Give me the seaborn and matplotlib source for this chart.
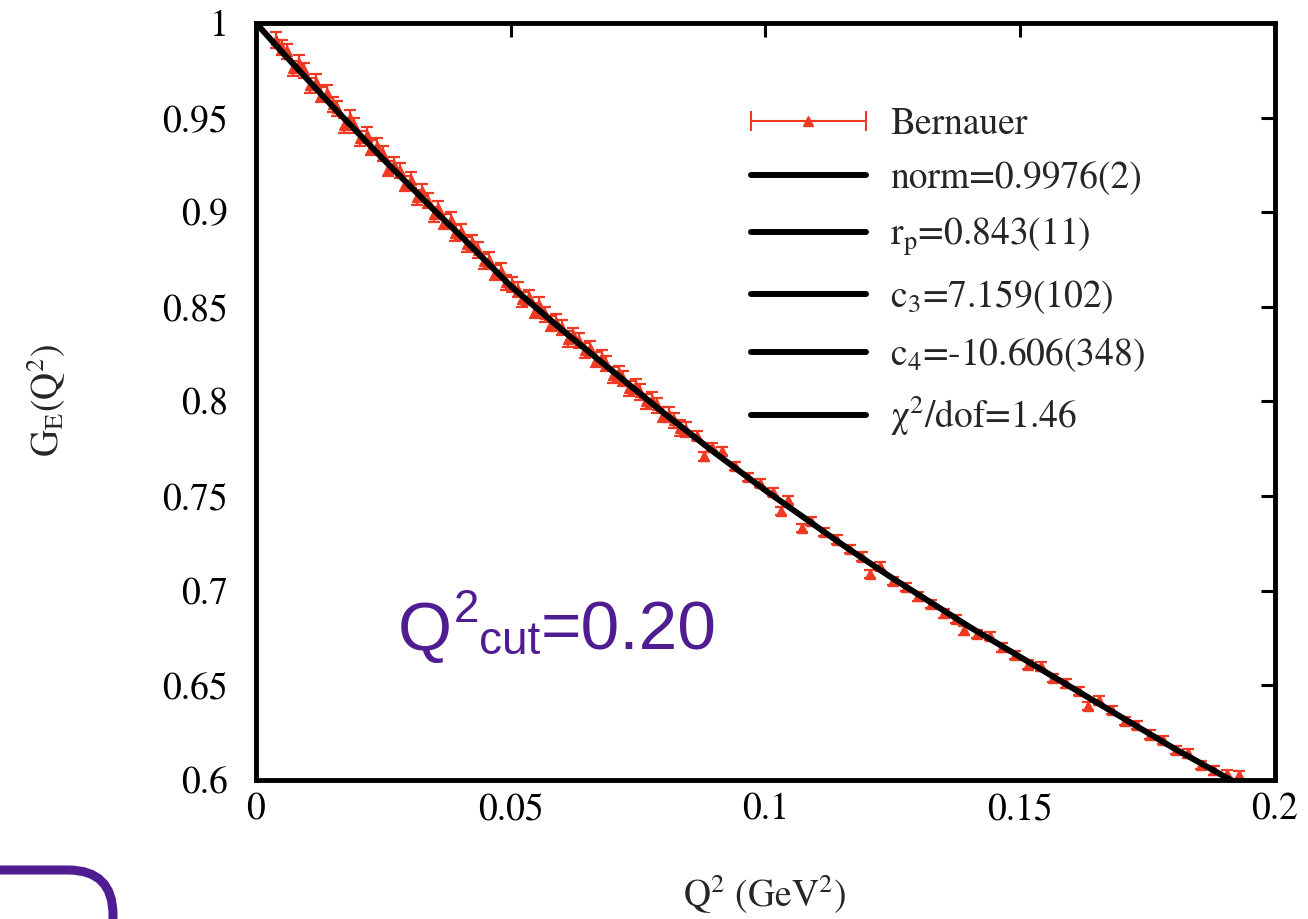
import matplotlib.pyplot as plt
import numpy as np
import pandas as pd
import seaborn as sns
from matplotlib.lines import Line2D
from matplotlib.legend_handler import HandlerLine2D, HandlerTuple
from matplotlib.patches import FancyBboxPatch

# Bernauer data points (Q^2 in GeV^2, G_E)
q_dense = [0.0040, 0.0052, 0.0061, 0.0073, 0.0085, 0.0094, 0.0106, 0.0118, 0.0127, 0.0139,
           0.0151, 0.0160, 0.0172, 0.0184, 0.0193, 0.0205, 0.0217, 0.0226, 0.0238, 0.0250,
           0.0259, 0.0271, 0.0283, 0.0292, 0.0304, 0.0316, 0.0325, 0.0337, 0.0349, 0.0358,
           0.0370, 0.0382, 0.0391, 0.0403, 0.0415, 0.0424, 0.0436, 0.0448, 0.0457, 0.0469,
           0.0481, 0.0490, 0.0502, 0.0514, 0.0523, 0.0535, 0.0547, 0.0556, 0.0568, 0.0580,
           0.0589, 0.0601, 0.0613, 0.0622, 0.0634, 0.0646, 0.0655, 0.0667, 0.0679, 0.0688,
           0.0700, 0.0712, 0.0721, 0.0733, 0.0745, 0.0754, 0.0766, 0.0778, 0.0787, 0.0799,
           0.0811, 0.0820, 0.0832, 0.0844]
g_dense = [0.991, 0.987, 0.985, 0.976, 0.979, 0.975, 0.967, 0.969, 0.962, 0.963,
           0.957, 0.955, 0.946, 0.950, 0.946, 0.939, 0.941, 0.934, 0.935, 0.931,
           0.923, 0.925, 0.922, 0.915, 0.917, 0.908, 0.911, 0.906, 0.899, 0.902,
           0.895, 0.896, 0.889, 0.890, 0.883, 0.884, 0.880, 0.874, 0.875, 0.868,
           0.869, 0.863, 0.862, 0.859, 0.854, 0.855, 0.848, 0.851, 0.846, 0.841,
           0.842, 0.839, 0.833, 0.835, 0.832, 0.827, 0.828, 0.822, 0.823, 0.820,
           0.814, 0.815, 0.812, 0.807, 0.808, 0.805, 0.800, 0.801, 0.798, 0.793,
           0.793, 0.790, 0.786, 0.785]
q_sparse = [0.0865, 0.0880, 0.0895, 0.0915, 0.0940, 0.0965, 0.0990, 0.1015, 0.1030, 0.1045,
            0.1072, 0.1090, 0.1115, 0.1140, 0.1165, 0.1190, 0.1205, 0.1225, 0.1250, 0.1275,
            0.1300, 0.1325, 0.1350, 0.1375, 0.1390, 0.1415, 0.1440, 0.1465, 0.1490, 0.1515,
            0.1540, 0.1565, 0.1590, 0.1615, 0.1633, 0.1655, 0.1680, 0.1705, 0.1730, 0.1755,
            0.1780, 0.1805, 0.1830, 0.1855, 0.1880, 0.1905, 0.1930]
g_sparse = [0.782, 0.771, 0.776, 0.774, 0.766, 0.760, 0.757, 0.752, 0.742, 0.748,
            0.733, 0.737, 0.731, 0.727, 0.722, 0.718, 0.709, 0.713, 0.705, 0.702,
            0.697, 0.693, 0.688, 0.685, 0.679, 0.677, 0.676, 0.670, 0.666, 0.661,
            0.660, 0.654, 0.651, 0.647, 0.639, 0.642, 0.637, 0.631, 0.629, 0.624,
            0.621, 0.616, 0.614, 0.608, 0.605, 0.603, 0.6025]
err_dense = 0.004
err_sparse = 0.0022

# fit curve
fit_q = [0.0, 0.005, 0.010, 0.015, 0.020, 0.025, 0.030, 0.035, 0.040, 0.045, 0.050,
         0.055, 0.060, 0.065, 0.070, 0.075, 0.080, 0.085, 0.090, 0.095, 0.100,
         0.105, 0.110, 0.115, 0.120, 0.125, 0.130, 0.135, 0.140, 0.145, 0.150,
         0.155, 0.160, 0.165, 0.170, 0.175, 0.180, 0.185, 0.190, 0.193]
fit_g = [1.000, 0.985, 0.9705, 0.956, 0.942, 0.928, 0.9145, 0.901, 0.888, 0.8745, 0.861,
         0.8495, 0.838, 0.827, 0.816, 0.805, 0.794, 0.7835, 0.773, 0.763, 0.753,
         0.7435, 0.734, 0.7245, 0.7155, 0.7065, 0.698, 0.6895, 0.681, 0.673, 0.665,
         0.657, 0.649, 0.641, 0.633, 0.625, 0.617, 0.6095, 0.602, 0.5975]

fit_labels = ['norm=0.9976(2)', r'r$_\mathrm{p}$=0.843(11)', r'c$_\mathrm{3}$=7.159(102)',
              r'c$_\mathrm{4}$=-10.606(348)', r'χ$^\mathrm{2}$/dof=1.46']
x_ticks = [0, 0.05, 0.1, 0.15, 0.2]
x_ticklabels = ['0', '0.05', '0.1', '0.15', '0.2']
y_ticks = [0.6, 0.65, 0.7, 0.75, 0.8, 0.85, 0.9, 0.95, 1.0]
y_ticklabels = ['0.6', '0.65', '0.7', '0.75', '0.8', '0.85', '0.9', '0.95', '1']

sns.set_theme(style='white')
plt.rcParams['font.family'] = ['STIXGeneral', 'Liberation Serif', 'DejaVu Serif']
plt.rcParams['mathtext.fontset'] = 'stix'

red = '#ee3a22'
purple = '#4f1c91'
fs = 27

fig = plt.figure(figsize=(13.08, 9.19), dpi=100)
ax = fig.add_axes([0.1957, 0.1513, 0.779, 0.8237])

ax.errorbar(q_dense, g_dense, yerr=err_dense, fmt='^', color=red, ms=7, elinewidth=1.6,
            capsize=4, capthick=1.6, zorder=2)
ax.errorbar(q_sparse, g_sparse, yerr=err_sparse, fmt='^', color=red, ms=7, elinewidth=1.6,
            capsize=4, capthick=1.6, zorder=2)

fit_df = pd.DataFrame({'q2': fit_q, 'ge': fit_g})
sns.lineplot(data=fit_df, x='q2', y='ge', color='black', lw=4.3, ax=ax, zorder=3,
             sort=False, estimator=None)

ax.set_xlim(0, 0.2)
ax.set_ylim(0.6, 1.0)
ax.set_xticks(x_ticks)
ax.set_xticklabels(x_ticklabels)
ax.set_yticks(y_ticks)
ax.set_yticklabels(y_ticklabels)
ax.tick_params(direction='in', length=10, width=2.2, top=True, right=True,
               labelsize=fs, colors='black')
ax.tick_params(axis='x', pad=9)
ax.tick_params(axis='y', pad=20)
for s in ax.spines.values():
    s.set_linewidth(3.5)
    s.set_color('black')

ax.set_xlabel('Q$^\\mathrm{2}$ (GeV$^\\mathrm{2}$)', fontsize=fs)
ax.set_ylabel('G$_\\mathrm{E}$(Q$^\\mathrm{2}$)', fontsize=fs)
ax.xaxis.set_label_coords(0.4995, -0.123)
ax.yaxis.set_label_coords(-0.184, 0.502)

# legend
bar = Line2D([], [], color=red, lw=1.5, marker='|', ms=14, mew=1.5)
tri = Line2D([], [], color=red, lw=0, marker='^', ms=7)
handles = [(bar, tri)] + [Line2D([], [], color='black', lw=4.3) for _ in fit_labels]
labels = ['Bernauer'] + fit_labels
ax.legend(handles, labels, loc='upper left', bbox_to_anchor=(0.475, 0.889),
          frameon=False, fontsize=fs, handlelength=3.65, handletextpad=0.35,
          labelspacing=0.52, borderpad=0, borderaxespad=0, numpoints=2,
          handler_map={tri: HandlerLine2D(numpoints=1), tuple: HandlerTuple(ndivide=1)})

# purple annotation, built from chained plain texts
sans = 'Liberation Sans'
t1 = ax.text(0.0279, 0.6687, 'Q', color=purple, fontsize=50, family=sans,
             ha='left', va='baseline')
t2 = ax.annotate('2', xy=(1, 0), xycoords=(t1, t1), xytext=(1, 30), textcoords='offset points',
                 color=purple, fontsize=33, family=sans, ha='left', va='baseline')
t3 = ax.annotate('cut', xy=(1, 0), xycoords=(t2, t1), color=purple, fontsize=33,
                 family=sans, ha='left', va='bottom')
t4 = ax.annotate('=0.20', xy=(1, 0), xycoords=(t3, t1), color=purple, fontsize=50,
                 family=sans, ha='left', va='bottom')

box = FancyBboxPatch((-1.0, -1.0), 2.13, 1.49, boxstyle='round,pad=0,rounding_size=0.45',
                     transform=fig.dpi_scale_trans, fill=False, edgecolor=purple, lw=6.5,
                     clip_on=False)
fig.add_artist(box)

fig.savefig('out.png', dpi=100)
